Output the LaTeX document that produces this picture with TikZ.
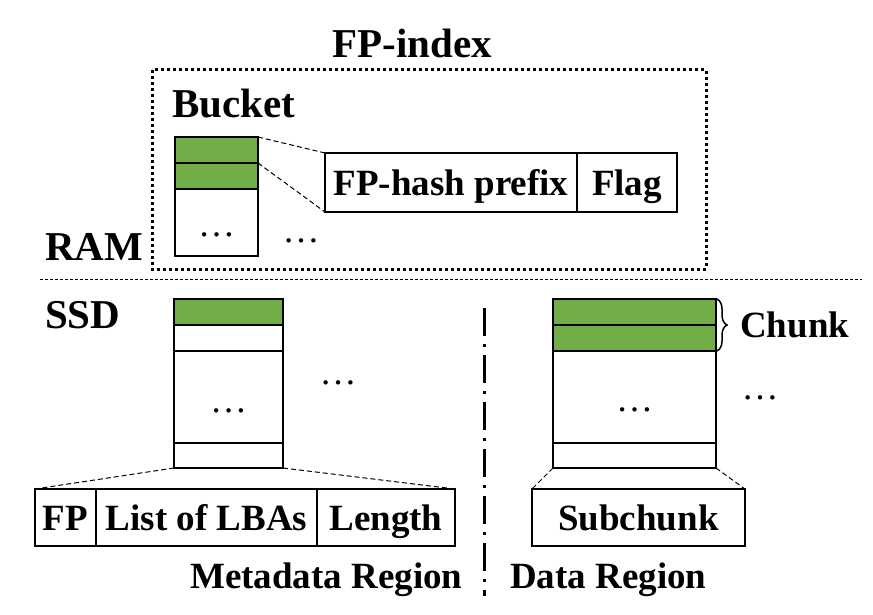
\documentclass[tikz,border=0pt]{standalone}
\usepackage{fontspec}
\setmainfont{Liberation Serif}
\usetikzlibrary{decorations.pathreplacing}
\definecolor{cellgreen}{HTML}{70AD47}
\tikzset{
  cell/.style={draw=black, line width=2.5pt, inner sep=0pt, outer sep=0pt, font=\fontsize{37}{40}\selectfont\bfseries},
  tcell/.style={cell, text height=30pt, text depth=5pt},
  gcell/.style={cell, fill=cellgreen},
  zoomline/.style={draw=black, line width=1pt, dash pattern=on 5pt off 3pt},
  biglabel/.style={inner sep=0pt, font=\fontsize{41}{44}\selectfont\bfseries},
  label37/.style={inner sep=0pt, font=\fontsize{37}{40}\selectfont\bfseries},
  dotslabel/.style={inner sep=0pt, font=\fontsize{37}{40}\selectfont}
}
\begin{document}
\begin{tikzpicture}[x=1pt,y=-1pt]
\useasboundingbox (0,0) rectangle (873,615);
% FP-index box
\node[biglabel, anchor=base] (fpindex) at (412,58) {FP-index};
\draw[line width=3pt, dash pattern=on 3pt off 3pt] (152,70) rectangle (706,269);
\node[biglabel, anchor=base west] (bucket) at (172,118) {Bucket};
% bucket stack
\node[gcell, minimum width=83pt, minimum height=26pt] (b1) at (216.5,150) {};
\node[gcell, minimum width=83pt, minimum height=26pt] (b2) at (216.5,176) {};
\node[cell, minimum width=83pt, minimum height=67pt] (b3) at (216.5,222.5) {};
\node[dotslabel, anchor=base] (b3dots) at (216.5,236) {\dots};
\node[dotslabel, anchor=base] (bdots) at (301,242) {\dots};
% FP-hash entry
\node[tcell, minimum width=252pt, minimum height=59pt] (fph) at (451,182.5) {FP-hash prefix};
\node[tcell, minimum width=100pt, minimum height=59pt] (flag) at (627,182.5) {Flag};
\draw[zoomline] (b1.north east) -- (fph.north west);
\draw[zoomline] (b2.north east) -- (fph.south west);
% RAM / SSD
\node[biglabel, anchor=base west] (ram) at (45,260) {RAM};
\draw[line width=1pt, dash pattern=on 3pt off 2pt] (40,279) -- (862,279);
\node[biglabel, anchor=base west] (ssd) at (45,328) {SSD};
% metadata stack
\node[gcell, minimum width=109pt, minimum height=26pt] (m1) at (228.5,312) {};
\node[cell, minimum width=109pt, minimum height=26pt] (m2) at (228.5,338) {};
\node[cell, minimum width=109pt, minimum height=92pt] (m3) at (228.5,397) {};
\node[dotslabel, anchor=base] (m3dots) at (228.5,412) {\dots};
\node[cell, minimum width=109pt, minimum height=25pt] (m4) at (228.5,455.5) {};
\node[dotslabel, anchor=base] (mdots) at (338,384) {\dots};
% metadata entry
\node[tcell, minimum width=61pt, minimum height=57pt] (fp) at (65.5,517.5) {FP};
\node[tcell, minimum width=221pt, minimum height=57pt] (lba) at (206.5,517.5) {List of LBAs};
\node[tcell, minimum width=138pt, minimum height=57pt] (len) at (386,517.5) {Length};
\draw[zoomline] (m4.south west) -- (fp.north west);
\draw[zoomline] (m4.south east) -- (len.north east);
\node[label37, anchor=base west] (metareg) at (190,588) {Metadata Region};
% separator
\draw[line width=3pt, dash pattern=on 28pt off 8pt on 3pt off 8pt] (484,308) -- (484,596);
% data stack
\node[gcell, minimum width=163pt, minimum height=26pt] (d1) at (634.5,312) {};
\node[gcell, minimum width=163pt, minimum height=26pt] (d2) at (634.5,338) {};
\node[cell, minimum width=163pt, minimum height=92pt] (d3) at (634.5,397) {};
\node[dotslabel, anchor=base] (d3dots) at (634.5,411) {\dots};
\node[cell, minimum width=163pt, minimum height=25pt] (d4) at (634.5,455.5) {};
\node[dotslabel, anchor=base] (ddots) at (760,399) {\dots};
\draw[line width=1.5pt, decorate, decoration={brace, amplitude=10pt}] ([xshift=1pt]d1.north east) -- ([xshift=1pt]d2.south east);
\node[label37, anchor=base west] (chunk) at (740,337) {Chunk};
% subchunk
\node[tcell, minimum width=213pt, minimum height=57pt] (sub) at (638.5,517.5) {Subchunk};
\draw[zoomline] (d4.south west) -- (sub.north west);
\draw[zoomline] (d4.south east) -- (sub.north east);
\node[label37, anchor=base west] (datareg) at (510,588) {Data Region};
\end{tikzpicture}
\end{document}
